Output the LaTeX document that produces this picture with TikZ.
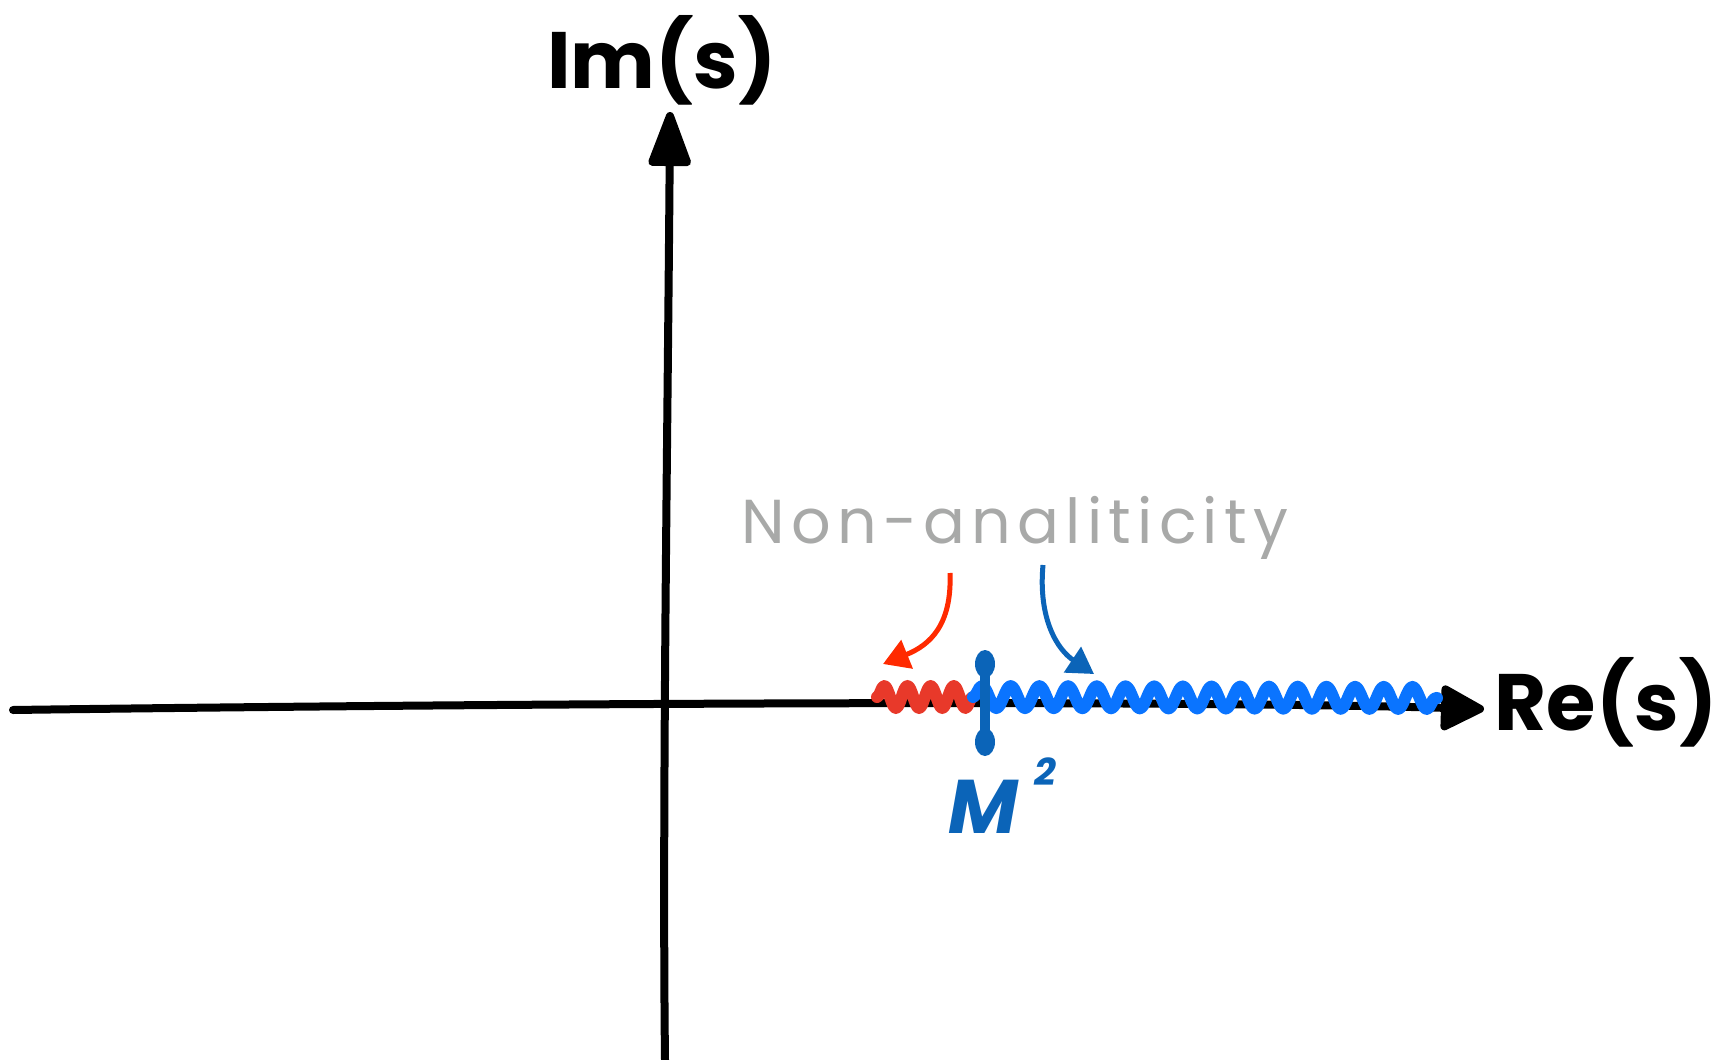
\documentclass[tikz,border=0pt]{standalone}
\usepackage{fontspec}
\setmainfont{Poppins}
\usetikzlibrary{arrows.meta,decorations.pathmorphing}
\definecolor{wavered}{HTML}{E8392A}
\definecolor{arrowred}{HTML}{FF2A00}
\definecolor{waveblue}{HTML}{0A74FF}
\definecolor{darkblue}{HTML}{0B64B8}
\definecolor{labelgray}{HTML}{A8A9A8}
\tikzset{
  axis/.style={line width=8pt, line cap=round},
  axislabel/.style={font=\fontsize{80}{90}\selectfont\bfseries, text=black, inner sep=0pt},
  wave/.style={line width=12pt, line cap=round, line join=round, decorate, decoration={snake, segment length=#1, amplitude=11pt}},
  pointer/.style={line width=5pt, -{Triangle[length=26pt,width=30pt]}},
}
\begin{document}
\begin{tikzpicture}[x=1pt,y=-1pt]
\useasboundingbox (0,0) rectangle (1717,1060);
% axes
\coordinate (xl) at (13,710);
\coordinate (xm) at (666,701);
\coordinate (xr) at (1484,709);
\coordinate (yb) at (665,1060);
\coordinate (yt) at (670,112);
\draw[axis, -{Triangle[length=48pt,width=48pt,round]}] (xl) .. controls (300,706) and (1100,698) .. (xr);
\draw[axis, -{Triangle[length=62pt,width=44pt,round]}] (yb) .. controls (662,800) and (668,400) .. (yt);
% labels
\node[axislabel] (im) at (662,60) {Im(s)};
\node[axislabel] (re) at (1606,702) {Re(s)};
\node[font=\fontsize{62}{70}\selectfont\addfontfeatures{LetterSpace=10}, text=labelgray, inner sep=0pt] (na) at (1015,528) {Non-analiticity};
% waves
\coordinate (rs) at (877,697);
\coordinate (rm) at (973,697);
\coordinate (be) at (1437,698);
\draw[wave=23.2pt, wavered] (rs) -- (rm);
\draw[wave=28.7pt, waveblue] (rm) -- (be);
% threshold tick
\coordinate (tt) at (985,664);
\coordinate (tb) at (985,742);
\draw[darkblue, line width=10pt] (tt) -- (tb);
\fill[darkblue] (tt) ellipse [x radius=10pt, y radius=14pt];
\fill[darkblue] (tb) ellipse [x radius=10pt, y radius=14pt];
\node[font=\fontsize{76}{80}\selectfont\bfseries\itshape, text=darkblue, inner sep=0pt, anchor=base] (m2) at (1002,833) {M\hspace{16pt}\raisebox{48pt}{\fontsize{38}{38}\selectfont 2}};
% pointers
\coordinate (ra) at (950,573);
\coordinate (rb) at (883,664);
\coordinate (ba) at (1043,565);
\coordinate (bb) at (1094,674);
\draw[pointer, arrowred] (ra) .. controls (952,625) and (930,645) .. (rb);
\draw[pointer, darkblue] (ba) .. controls (1038,620) and (1058,650) .. (bb);
\end{tikzpicture}
\end{document}
